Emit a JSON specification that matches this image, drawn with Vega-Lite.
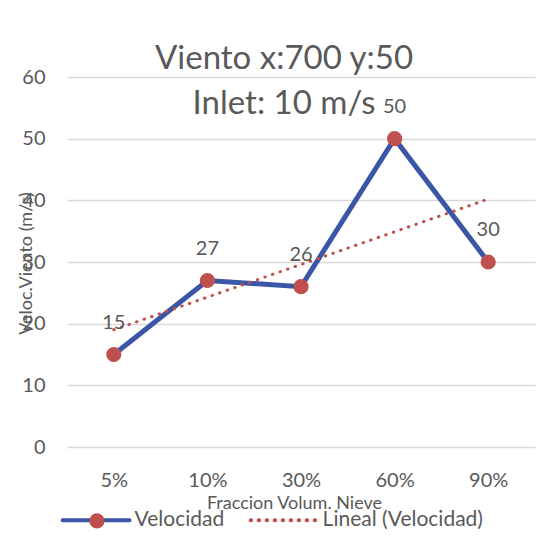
{
  "$schema": "https://vega.github.io/schema/vega-lite/v6.json",
  "width": 468,
  "height": 370,
  "autosize": {"type": "none"},
  "padding": {"left": 67, "top": 77, "right": 17, "bottom": 103},
  "background": "#ffffff",
  "config": {
    "view": {"stroke": null},
    "font": "Lato",
    "axis": {"labelFont": "Lato", "titleFont": "Lato"},
    "legend": {"labelFont": "Lato"}
  },
  "title": {
    "text": ["Viento x:700 y:50", "Inlet: 10 m/s"],
    "fontSize": 33,
    "fontWeight": "normal",
    "font": "Lato",
    "color": "#595959",
    "lineHeight": 45,
    "anchor": "middle",
    "frame": "group",
    "dx": -17,
    "baseline": "alphabetic",
    "offset": -80
  },
  "data": {
    "values": [
      {"frac": "5%", "series": "Velocidad", "value": 15},
      {"frac": "10%", "series": "Velocidad", "value": 27},
      {"frac": "30%", "series": "Velocidad", "value": 26},
      {"frac": "60%", "series": "Velocidad", "value": 50},
      {"frac": "90%", "series": "Velocidad", "value": 30},
      {"frac": "5%", "series": "Lineal (Velocidad)", "value": 19.0},
      {"frac": "10%", "series": "Lineal (Velocidad)", "value": 24.3},
      {"frac": "30%", "series": "Lineal (Velocidad)", "value": 29.6},
      {"frac": "60%", "series": "Lineal (Velocidad)", "value": 34.9},
      {"frac": "90%", "series": "Lineal (Velocidad)", "value": 40.2}
    ]
  },
  "encoding": {
    "x": {
      "field": "frac",
      "type": "ordinal",
      "sort": ["5%", "10%", "30%", "60%", "90%"],
      "scale": {"type": "point", "padding": 0.5},
      "axis": {
        "title": "Fraccion Volum. Nieve",
        "titleFontSize": 18,
        "titleFontWeight": "normal",
        "titleColor": "#595959",
        "titleX": 227,
        "titleY": 61,
        "titleBaseline": "alphabetic",
        "titleAnchor": null,
        "labelFontSize": 20,
        "labelColor": "#595959",
        "labelAngle": 0,
        "labelPadding": 23,
        "domain": false,
        "ticks": false,
        "grid": false
      }
    },
    "y": {
      "field": "value",
      "type": "quantitative",
      "scale": {"domain": [0, 60], "nice": false},
      "axis": {
        "values": [0, 10, 20, 30, 40, 50, 60],
        "title": "Veloc.Viento (m/s)",
        "titleFontSize": 18,
        "titleFontWeight": "normal",
        "titleColor": "#595959",
        "titleX": -36,
        "titleY": 186,
        "titleAngle": -90,
        "titleAlign": "center",
        "titleBaseline": "alphabetic",
        "labelFontSize": 20,
        "labelColor": "#595959",
        "labelPadding": 22,
        "domain": false,
        "ticks": false,
        "grid": true,
        "gridColor": "#d9d9d9",
        "gridWidth": 1.3
      }
    }
  },
  "layer": [
    {
      "transform": [{"filter": "datum.series === 'Velocidad'"}],
      "mark": {"type": "line", "strokeWidth": 5},
      "encoding": {
        "color": {
          "field": "series",
          "type": "nominal",
          "scale": {"domain": ["Velocidad", "Lineal (Velocidad)"], "range": ["#3A56A5", "#C0504D"]},
          "legend": {
            "title": null,
            "orient": "none",
            "legendX": 18.6,
            "legendY": 432.6,
            "direction": "horizontal",
            "symbolType": "M-4,0H4",
            "symbolSize": 280,
            "symbolStrokeWidth": 4,
            "labelFontSize": 21,
            "labelColor": "#595959",
            "labelOffset": 28,
            "labelLimit": 400,
            "columnPadding": 18,
            "padding": 0,
            "encode": {"symbols": {"update": {"strokeCap": {"value": "round"}}}}
          }
        }
      }
    },
    {
      "transform": [{"filter": "datum.series === 'Lineal (Velocidad)'"}],
      "mark": {"type": "line", "strokeWidth": 3, "strokeCap": "round"},
      "encoding": {
        "color": {"field": "series", "type": "nominal"},
        "strokeDash": {
          "field": "series",
          "type": "nominal",
          "scale": {"domain": ["Velocidad", "Lineal (Velocidad)"], "range": [[1, 0], [0.5, 7.5]]}
        }
      }
    },
    {
      "transform": [{"filter": "datum.series === 'Velocidad'"}],
      "mark": {"type": "point", "filled": true, "opacity": 1, "size": 230, "shape": "circle"},
      "encoding": {
        "fill": {
          "field": "series",
          "type": "nominal",
          "scale": {"domain": ["Velocidad"], "range": ["#C0504D"]},
          "legend": {
            "title": null,
            "orient": "none",
            "legendX": 19.4,
            "legendY": 433.4,
            "symbolType": "circle",
            "symbolSize": 230,
            "symbolStrokeWidth": 0,
            "symbolOpacity": 1,
            "labelFontSize": 21,
            "labelExpr": "''",
            "padding": 0
          }
        }
      }
    },
    {
      "transform": [{"filter": "datum.series === 'Velocidad'"}],
      "mark": {"type": "text", "dy": -32, "fontSize": 20, "color": "#595959", "font": "Lato"},
      "encoding": {"text": {"field": "value", "type": "quantitative"}}
    }
  ]
}
